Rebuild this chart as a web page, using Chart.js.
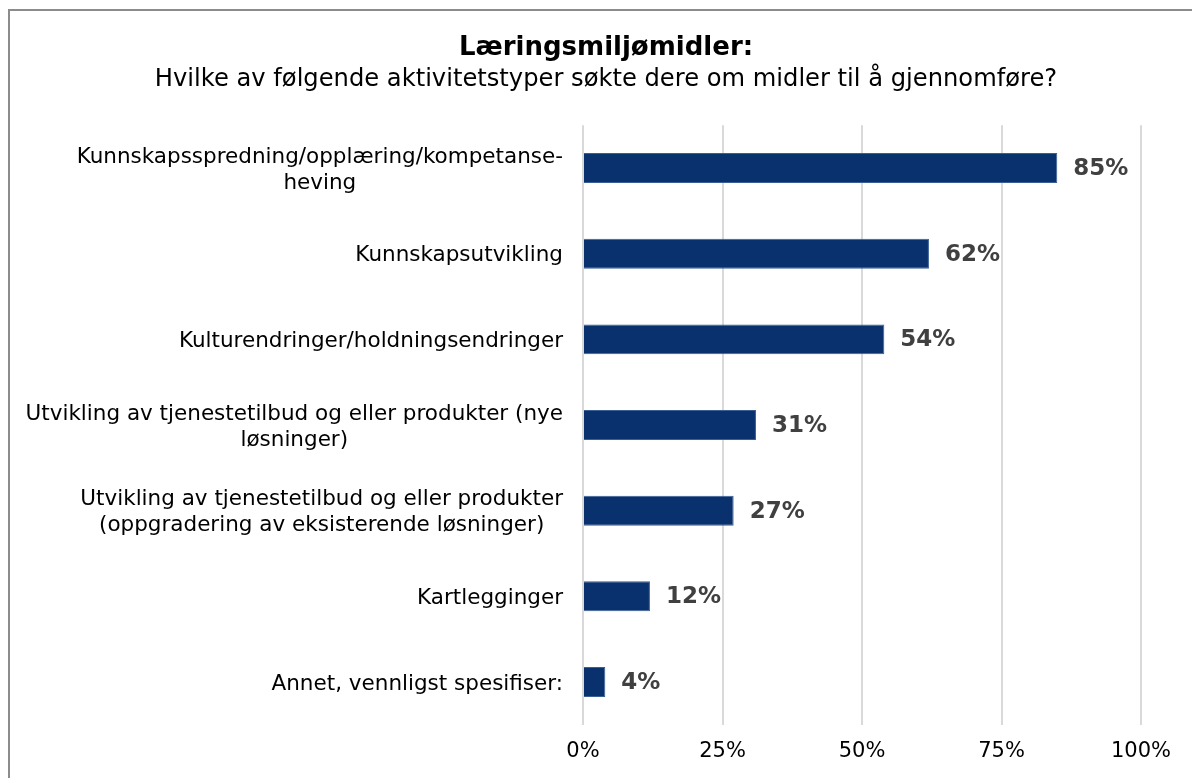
<!DOCTYPE html>
<html>
<head>
<meta charset="utf-8">
<script src="https://cdn.jsdelivr.net/npm/chart.js@4"></script>
<style>
  html, body { margin: 0; padding: 0; background: #fff; overflow: hidden; }
  #frame { position: absolute; left: 8px; top: 9px; width: 1300px; height: 900px; border-left: 2px solid #8c8c8c; border-top: 2px solid #8c8c8c; }
  #wrap { position: absolute; left: 0; top: 0; width: 1212px; height: 778px; }
</style>
</head>
<body>
<div id="frame"></div>
<div id="wrap"><canvas id="graph"></canvas></div>
<script>
// Læringsmiljømidler - aktivitetstyper

const categories = [
  ["Kunnskapsspredning/opplæring/kompetanse-", "heving"],
  ["Kunnskapsutvikling"],
  ["Kulturendringer/holdningsendringer"],
  ["Utvikling av tjenestetilbud og eller produkter (nye", "løsninger)"],
  ["Utvikling av tjenestetilbud og eller produkter", "(oppgradering av eksisterende løsninger)"],
  ["Kartlegginger"],
  ["Annet, vennligst spesifiser:"]
];
const shares = [85, 62, 54, 31, 27, 12, 4];
const xTicks = [0, 25, 50, 75, 100];

const FONT = "'DejaVu Sans', Verdana, sans-serif";

// value labels after each bar
const barLabels = {
  id: 'barLabels',
  afterDatasetsDraw(chart) {
    const ctx = chart.ctx;
    const meta = chart.getDatasetMeta(0);
    ctx.save();
    ctx.font = "bold 23px " + FONT;
    ctx.fillStyle = "#404040";
    ctx.textAlign = "left";
    ctx.textBaseline = "middle";
    meta.data.forEach((bar, i) => {
      ctx.fillText(shares[i] + "%", bar.x + 16, bar.y + 1);
    });
    ctx.restore();
  }
};

// category labels: block right aligned, lines centred inside block
const catLabels = {
  id: 'catLabels',
  afterDraw(chart) {
    const ctx = chart.ctx;
    const ys = chart.scales.y;
    const right = chart.chartArea.left - 20;
    const lh = 26;
    ctx.save();
    ctx.font = "21.5px " + FONT;
    ctx.fillStyle = "#000";
    ctx.textAlign = "center";
    ctx.textBaseline = "middle";
    categories.forEach((lines, i) => {
      const y = ys.getPixelForValue(i);
      const w = Math.max(...lines.map(l => ctx.measureText(l).width));
      const cx = right - w / 2;
      lines.forEach((l, k) => {
        ctx.fillText(l, cx, y + 2 + (k - (lines.length - 1) / 2) * lh);
      });
    });
    ctx.restore();
  }
};

new Chart(document.getElementById("graph"), {
  type: 'bar',
  data: {
    labels: categories.map(c => c.join(" ")),
    datasets: [{
      data: shares,
      backgroundColor: "#08316e",
      borderColor: "#3a5f95",
      borderWidth: 1,
      barPercentage: 0.7,
      categoryPercentage: 0.5
    }]
  },
  options: {
    indexAxis: 'y',
    responsive: true,
    maintainAspectRatio: false,
    animation: false,
    layout: { padding: { top: 33, left: 10, right: 10, bottom: 0 } },
    plugins: {
      legend: { display: false },
      tooltip: { enabled: false },
      title: {
        display: true,
        text: "Læringsmiljømidler:",
        color: "#000",
        font: { family: FONT, size: 26, weight: 'bold', lineHeight: 1.2 },
        padding: { top: 0, bottom: 1 }
      },
      subtitle: {
        display: true,
        text: "Hvilke av følgende aktivitetstyper søkte dere om midler til å gjennomføre?",
        color: "#000",
        font: { family: FONT, size: 24.2, lineHeight: 1.2 },
        padding: { top: 0, bottom: 31 }
      }
    },
    scales: {
      x: {
        min: 0,
        max: 100,
        afterBuildTicks(scale) { scale.ticks = xTicks.map(v => ({ value: v })); },
        grid: { color: "#d9d9d9", lineWidth: 2, drawTicks: false },
        border: { display: false },
        ticks: {
          color: "#000",
          padding: 14,
          font: { family: FONT, size: 21 },
          callback: v => v + "%"
        }
      },
      y: {
        grid: { display: false },
        border: { display: false },
        ticks: { display: false },
        afterFit(scale) { scale.width = 573; }
      },
      yRight: {
        type: 'category',
        position: 'right',
        grid: { display: false },
        border: { display: false },
        ticks: { display: false },
        afterFit(scale) { scale.width = 61; }
      }
    }
  },
  plugins: [barLabels, catLabels]
});
</script>
</body>
</html>
